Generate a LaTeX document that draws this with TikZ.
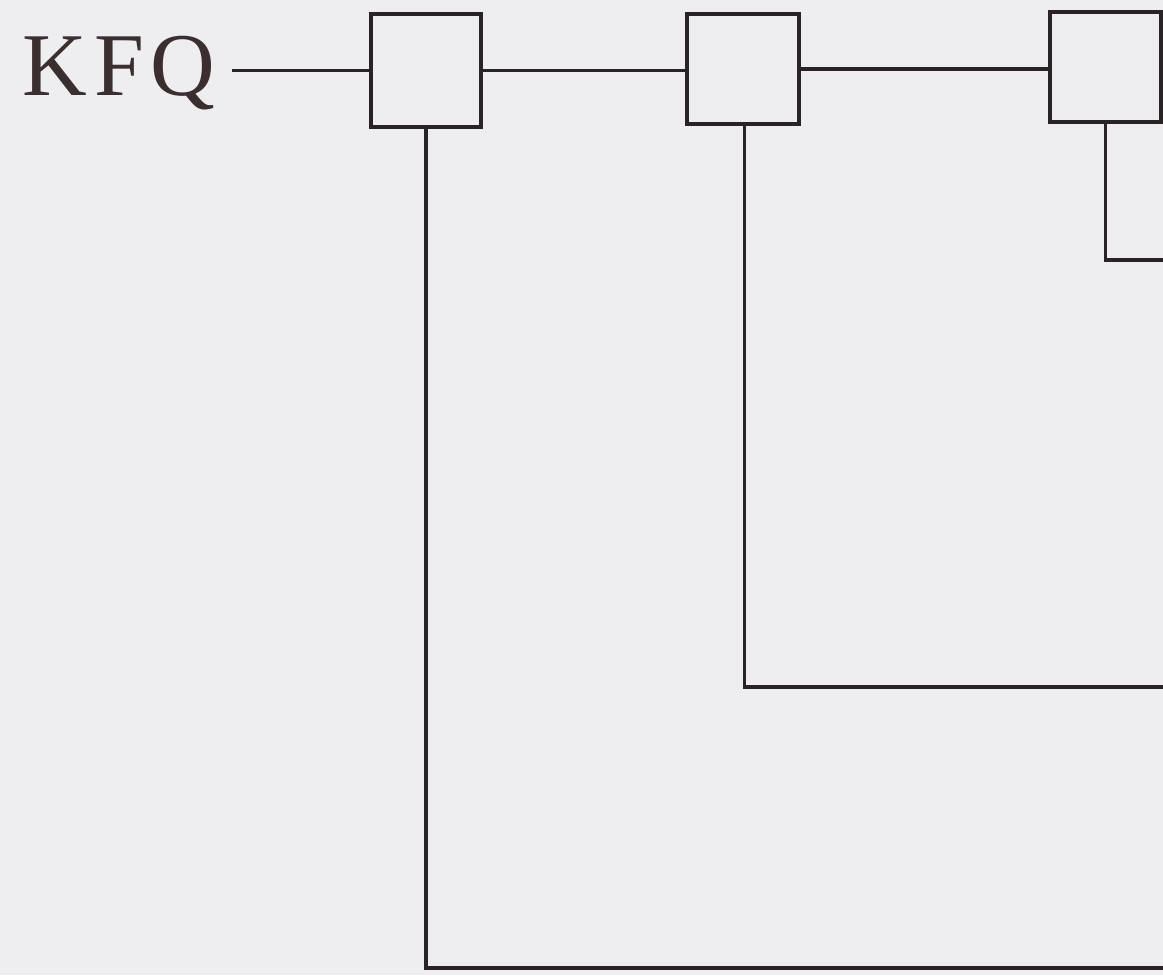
\documentclass[tikz,border=0pt]{standalone}
\usepackage{fontspec}
\setmainfont{Liberation Serif}
\definecolor{paper}{HTML}{EEEEF1}
\definecolor{ink}{HTML}{2A2326}
\definecolor{inktext}{HTML}{3B2E2F}
\begin{document}
\begin{tikzpicture}[x=0.02cm,y=-0.02cm,
 unit/.style={draw=ink,line width=2pt,fill=paper,minimum width=2.2cm,minimum height=2.2cm,inner sep=0pt},
 wire/.style={draw=ink,line width=1.8pt}]
\fill[paper] (0,0) rectangle (1163,975);
\useasboundingbox (0,0) rectangle (1163,975);
\node[anchor=base west,inner sep=0pt,text=inktext,font=\fontsize{51}{51}\selectfont] (kfq) at (22,95) {K\kern4pt F\kern4pt Q};

\node[unit,minimum width=2.2cm,minimum height=2.26cm] (b1) at (426,70.5) {};
\node[unit,minimum width=2.24cm] (b2) at (743,69) {};
\node[unit,minimum width=2.22cm] (b3) at (1105.5,67) {};

\coordinate (e1) at (1163,968);
\coordinate (e2) at (1163,687);
\coordinate (e3) at (1163,260);

\draw[wire] ([xshift=9pt]kfq.east |- b1.west) -- (b1.west);
\draw[wire] (b1.east) -- (b1.east -| b2.west);
\draw[wire] (b2.east) -- (b2.east -| b3.west);
\draw[wire] (b1.south) |- (e1);
\draw[wire] ([xshift=1pt]b2.south) |- (e2);
\draw[wire] (b3.south) |- (e3);
\end{tikzpicture}
\end{document}
